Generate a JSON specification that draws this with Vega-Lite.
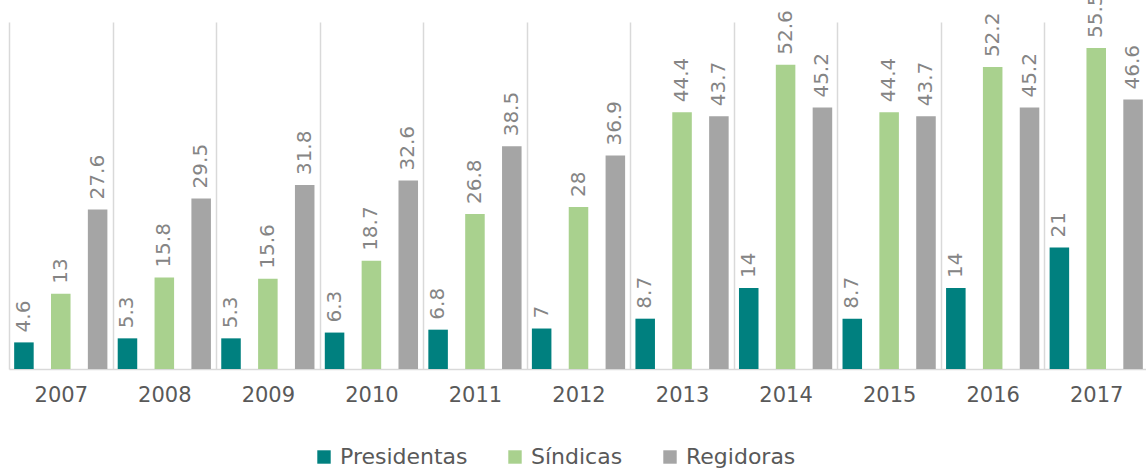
{
  "$schema": "https://vega.github.io/schema/vega-lite/v6.json",
  "autosize": "none",
  "width": 1139,
  "height": 347,
  "padding": {"left": 9, "top": 22, "right": 0, "bottom": 105},
  "background": "white",
  "data": {
    "values": [
      {"year": "2007", "serie": "Presidentas", "value": 4.6},
      {"year": "2007", "serie": "Síndicas", "value": 13},
      {"year": "2007", "serie": "Regidoras", "value": 27.6},
      {"year": "2008", "serie": "Presidentas", "value": 5.3},
      {"year": "2008", "serie": "Síndicas", "value": 15.8},
      {"year": "2008", "serie": "Regidoras", "value": 29.5},
      {"year": "2009", "serie": "Presidentas", "value": 5.3},
      {"year": "2009", "serie": "Síndicas", "value": 15.6},
      {"year": "2009", "serie": "Regidoras", "value": 31.8},
      {"year": "2010", "serie": "Presidentas", "value": 6.3},
      {"year": "2010", "serie": "Síndicas", "value": 18.7},
      {"year": "2010", "serie": "Regidoras", "value": 32.6},
      {"year": "2011", "serie": "Presidentas", "value": 6.8},
      {"year": "2011", "serie": "Síndicas", "value": 26.8},
      {"year": "2011", "serie": "Regidoras", "value": 38.5},
      {"year": "2012", "serie": "Presidentas", "value": 7},
      {"year": "2012", "serie": "Síndicas", "value": 28},
      {"year": "2012", "serie": "Regidoras", "value": 36.9},
      {"year": "2013", "serie": "Presidentas", "value": 8.7},
      {"year": "2013", "serie": "Síndicas", "value": 44.4},
      {"year": "2013", "serie": "Regidoras", "value": 43.7},
      {"year": "2014", "serie": "Presidentas", "value": 14},
      {"year": "2014", "serie": "Síndicas", "value": 52.6},
      {"year": "2014", "serie": "Regidoras", "value": 45.2},
      {"year": "2015", "serie": "Presidentas", "value": 8.7},
      {"year": "2015", "serie": "Síndicas", "value": 44.4},
      {"year": "2015", "serie": "Regidoras", "value": 43.7},
      {"year": "2016", "serie": "Presidentas", "value": 14},
      {"year": "2016", "serie": "Síndicas", "value": 52.2},
      {"year": "2016", "serie": "Regidoras", "value": 45.2},
      {"year": "2017", "serie": "Presidentas", "value": 21},
      {"year": "2017", "serie": "Síndicas", "value": 55.5},
      {"year": "2017", "serie": "Regidoras", "value": 46.6}
    ]
  },
  "encoding": {
    "x": {
      "field": "year",
      "type": "nominal",
      "title": null,
      "scale": {"paddingInner": 0, "paddingOuter": 0},
      "axis": {
        "labelAngle": 0,
        "labelFont": "DejaVu Sans",
        "labelFontSize": 21,
        "labelColor": "#595959",
        "labelPadding": 15,
        "ticks": false,
        "domainColor": "#D9D9D9",
        "domainWidth": 1.5,
        "grid": true,
        "gridColor": "#D9D9D9",
        "gridWidth": 1.5,
        "tickBand": "extent"
      }
    },
    "xOffset": {
      "field": "serie",
      "type": "nominal",
      "sort": ["Presidentas", "Síndicas", "Regidoras"],
      "scale": {"paddingInner": 0.47, "paddingOuter": 0.14}
    },
    "y": {
      "field": "value",
      "type": "quantitative",
      "scale": {"domain": [0, 60]},
      "axis": null
    }
  },
  "layer": [
    {
      "mark": {"type": "bar"},
      "encoding": {
        "color": {
          "field": "serie",
          "type": "nominal",
          "sort": ["Presidentas", "Síndicas", "Regidoras"],
          "scale": {
            "domain": ["Presidentas", "Síndicas", "Regidoras"],
            "range": ["#00807F", "#A9D18E", "#A5A5A5"]
          },
          "legend": {
            "title": null,
            "orient": "none",
            "direction": "horizontal",
            "legendX": 304,
            "legendY": 424,
            "symbolType": "square",
            "symbolSize": 180,
            "symbolStrokeWidth": 0,
            "labelFont": "DejaVu Sans",
            "labelFontSize": 22,
            "labelColor": "#595959",
            "labelOffset": 5,
            "columnPadding": 36
          }
        }
      }
    },
    {
      "mark": {
        "type": "text",
        "angle": 270,
        "align": "left",
        "baseline": "middle",
        "dx": 10,
        "dy": 0,
        "font": "DejaVu Sans",
        "fontSize": 20,
        "color": "#858585"
      },
      "encoding": {
        "text": {"field": "value", "type": "quantitative"}
      }
    }
  ],
  "view": {"stroke": null},
  "config": {"style": {"cell": {"stroke": null}}}
}
